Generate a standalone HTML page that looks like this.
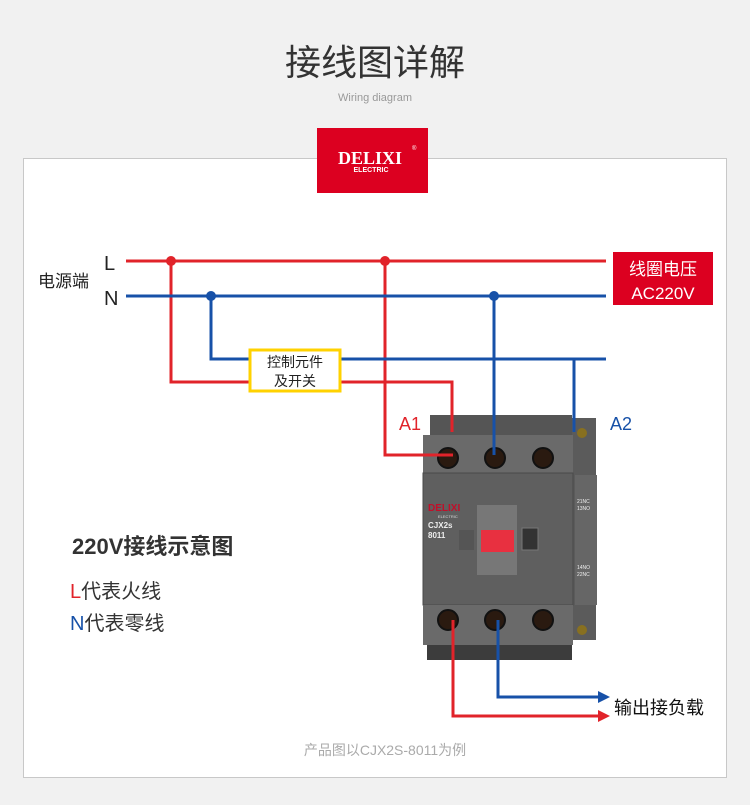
<!DOCTYPE html>
<html><head><meta charset="utf-8"><style>
body{margin:0;width:750px;height:805px;background:#f1f1f1;overflow:hidden;font-family:"Liberation Sans","Noto Sans CJK SC",sans-serif}
</style></head><body>
<svg width="750" height="805" xmlns="http://www.w3.org/2000/svg" style="position:absolute;left:0;top:0" font-family="Liberation Sans, Noto Sans CJK SC, sans-serif">
<rect x="23.5" y="158.5" width="703" height="619" fill="#fff" stroke="#c8c8c8"/>
<text x="375" y="75" font-size="36" text-anchor="middle" fill="#333">接线图详解</text>
<text x="375" y="101" font-size="11" text-anchor="middle" fill="#999">Wiring diagram</text>
<rect x="317" y="128" width="111" height="65" fill="#dc0020"/>
<text x="370" y="164" font-size="18" font-weight="bold" font-family="Liberation Serif, serif" text-anchor="middle" fill="#fff">DELIXI</text>
<text x="371" y="172" font-size="7" font-weight="bold" text-anchor="middle" fill="#fff">ELECTRIC</text>
<text x="412" y="150" font-size="6" fill="#fff">®</text>
<text x="38" y="287" font-size="17" fill="#222">电源端</text>
<text x="104" y="270" font-size="20" fill="#222">L</text>
<text x="104" y="305" font-size="20" fill="#222">N</text>
<!-- contactor -->
<g>
<rect x="430" y="415" width="142" height="22" fill="#555"/>
<rect x="572" y="418" width="24" height="222" fill="#5b5b5b"/>
<rect x="575" y="475" width="22" height="130" fill="#666"/>
<rect x="423" y="435" width="150" height="38" fill="#6a6a6a"/>
<rect x="423" y="473" width="150" height="132" fill="#5f5f5f" stroke="#4a4a4a"/>
<rect x="423" y="605" width="150" height="40" fill="#6a6a6a"/>
<rect x="427" y="645" width="145" height="15" fill="#3c3c3c"/>
<g fill="#2a1a10" stroke="#111" stroke-width="2">
<circle cx="448" cy="458" r="10"/><circle cx="495" cy="458" r="10"/><circle cx="543" cy="458" r="10"/>
<circle cx="448" cy="620" r="10"/><circle cx="495" cy="620" r="10"/><circle cx="543" cy="620" r="10"/>
</g>
<rect x="477" y="505" width="40" height="70" fill="#777"/>
<rect x="481" y="530" width="33" height="22" fill="#e83040"/>
<rect x="459" y="530" width="15" height="20" fill="#555"/>
<rect x="522" y="528" width="16" height="22" fill="#333" stroke="#777"/>
<text x="428" y="511" font-size="10" font-weight="bold" fill="#c0102a">DELIXI</text>
<text x="438" y="518" font-size="4" fill="#ddd">ELECTRIC</text>
<text x="428" y="528" font-size="8" font-weight="bold" fill="#eee">CJX2s</text>
<text x="428" y="538" font-size="8" font-weight="bold" fill="#eee">8011</text>
<text x="577" y="503" font-size="5" fill="#eee">21NC</text><text x="577" y="510" font-size="5" fill="#eee">13NO</text>
<text x="577" y="569" font-size="5" fill="#eee">14NO</text><text x="577" y="576" font-size="5" fill="#eee">22NC</text>
<circle cx="582" cy="433" r="5" fill="#887020"/><circle cx="582" cy="630" r="5" fill="#887020"/>
</g>
<g fill="none" stroke-width="3">
<path d="M126 261H606M171 261V382H250M340 382H452V432M385 261V455H453M453 620V716H600" stroke="#e1232a"/>
<path d="M126 296H606M211 296V359H250M340 359H606M574 359V432M494 296V455M498 620V697H600" stroke="#1751a8"/>
</g>
<circle cx="171" cy="261" r="5" fill="#e1232a"/><circle cx="385" cy="261" r="5" fill="#e1232a"/>
<circle cx="211" cy="296" r="5" fill="#1751a8"/><circle cx="494" cy="296" r="5" fill="#1751a8"/>
<path d="M598 691L610 697L598 703Z" fill="#1751a8"/>
<path d="M598 710L610 716L598 722Z" fill="#e1232a"/>
<rect x="250" y="350" width="90" height="41" fill="#fff" stroke="#ffd200" stroke-width="3"/>
<text x="295" y="367" font-size="14" text-anchor="middle" fill="#222">控制元件</text>
<text x="295" y="386" font-size="14" text-anchor="middle" fill="#222">及开关</text>
<rect x="613" y="252" width="100" height="53" fill="#dc0020"/>
<text x="663" y="275" font-size="17" text-anchor="middle" fill="#fff">线圈电压</text>
<text x="663" y="299" font-size="17" text-anchor="middle" fill="#fff">AC220V</text>
<text x="399" y="430" font-size="18" fill="#e1232a">A1</text>
<text x="610" y="430" font-size="18" fill="#1751a8">A2</text>
<text x="614" y="714" font-size="18" fill="#111">输出接负载</text>
<text x="72" y="554" font-size="22" font-weight="bold" fill="#333">220V接线示意图</text>
<text x="70" y="598" font-size="20" fill="#333"><tspan fill="#e1232a">L</tspan>代表火线</text>
<text x="70" y="630" font-size="20" fill="#333"><tspan fill="#1751a8">N</tspan>代表零线</text>
<text x="385" y="755" font-size="14" text-anchor="middle" fill="#aaa">产品图以CJX2S-8011为例</text>
</svg>
</body></html>
